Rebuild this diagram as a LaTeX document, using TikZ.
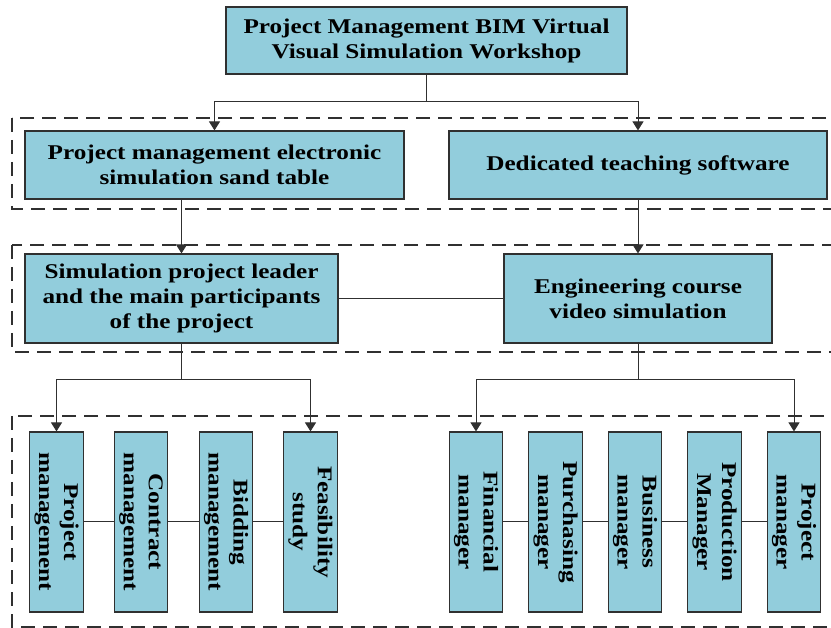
\documentclass[tikz,border=0pt]{standalone}
\usepackage{fontspec}
\setmainfont[FakeStretch=1.2]{Liberation Serif}
\usepackage{tikz}
\usepackage{xcolor}
\usetikzlibrary{arrows.meta}
\definecolor{boxblue}{HTML}{92CDDC}
\definecolor{lineblack}{HTML}{303030}
\tikzset{
    sim-box/.style = {draw=lineblack, fill=boxblue, line width=1.1pt, rectangle, inner sep=2pt, align=center, font=\fontsize{21}{25}\selectfont\bfseries},
    sim-box-rot/.style = {sim-box, minimum width=180pt, minimum height=53.5pt, rotate=-90},
    dash-frame/.style = {draw=lineblack, line width=1.5pt, dash pattern=on 14pt off 8pt},
    link-line/.style = {draw=lineblack, line width=1pt},
    link-arrow/.style = {link-line, -{Triangle[width=11pt,length=9pt]}},
}

\begin{document}
\begin{tikzpicture}[x=1pt, y=-1pt]
\useasboundingbox (0,0) rectangle (831,628);

% dashed groups
\draw[dash-frame] (12,118) rectangle (845,209);
\draw[dash-frame] (12,245) rectangle (845,352);
\draw[dash-frame] (12,416) rectangle (845,627);

% top
\node[sim-box, minimum width=401pt, minimum height=67pt] (workshop) at (426.5,40.5) {Project Management BIM Virtual\\Visual Simulation Workshop};

% second level
\node[sim-box, minimum width=379pt, minimum height=68pt] (sandtable) at (214.5,165) {Project management electronic\\simulation sand table};
\node[sim-box, minimum width=378pt, minimum height=68pt] (software) at (638,165) {Dedicated teaching software};

% third level
\node[sim-box, minimum width=313pt, minimum height=89pt] (leader) at (181.5,298.5) {Simulation project leader\\and the main participants\\of the project};
\node[sim-box, minimum width=268pt, minimum height=89pt] (video) at (638,298.5) {Engineering course\\video simulation};

% bottom, left group
\node[sim-box-rot] (projmgmt) at (56.5,522) {Project\\management};
\node[sim-box-rot] (contract) at (141,522) {Contract\\management};
\node[sim-box-rot] (bidding) at (226,522) {Bidding\\management};
\node[sim-box-rot] (feasibility) at (310.5,522) {Feasibility\\study};

% bottom, right group
\node[sim-box-rot] (financial) at (476,522) {Financial\\manager};
\node[sim-box-rot] (purchasing) at (555.5,522) {Purchasing\\manager};
\node[sim-box-rot] (business) at (635,522) {Business\\manager};
\node[sim-box-rot] (production) at (714.5,522) {Production\\Manager};
\node[sim-box-rot] (projmanager) at (794,522) {Project\\manager};

% connectors
\path (workshop.south) ++(0,27) coordinate (split-top);
\draw[link-line] (workshop) -- (split-top);
\draw[link-arrow] (split-top) -| (sandtable);
\draw[link-arrow] (split-top) -| (software);

\draw[link-arrow] (sandtable.south -| leader.north) -- (leader.north);
\draw[link-arrow] (software) -- (video);
\draw[link-line] (leader) -- (video);

\path (leader.south) ++(0,36) coordinate (split-left);
\draw[link-line] (leader) -- (split-left);
\draw[link-arrow] (split-left) -| (projmgmt);
\draw[link-arrow] (split-left) -| (feasibility);

\path (video.south) ++(0,36) coordinate (split-right);
\draw[link-line] (video) -- (split-right);
\draw[link-arrow] (split-right) -| (financial);
\draw[link-arrow] (split-right) -| (projmanager);

\draw[link-line] (projmgmt) -- (contract) -- (bidding) -- (feasibility);
\draw[link-line] (financial) -- (purchasing) -- (business) -- (production) -- (projmanager);
\end{tikzpicture}
\end{document}
